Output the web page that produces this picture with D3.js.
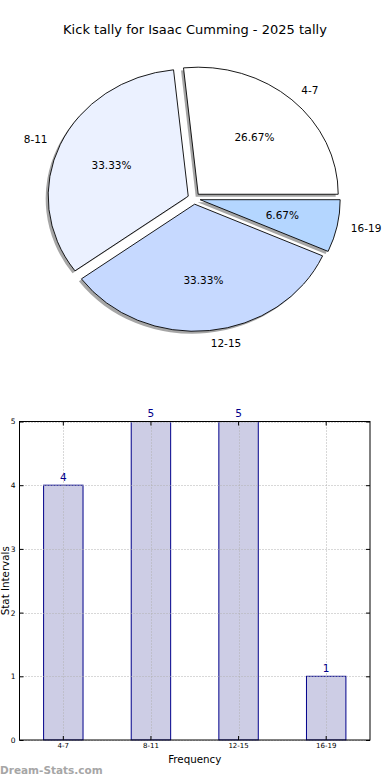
<!DOCTYPE html>
<meta charset="utf-8">
<script src="https://d3js.org/d3.v7.min.js"></script>
<style>
  body { margin: 0; background: #fff; }
  text { font-family: "DejaVu Sans", sans-serif; }
</style>
<div id="chart"></div>
<script>

// data
const categories = ["4-7", "8-11", "12-15", "16-19"];
const counts = [4, 5, 5, 1];
const yTicks = [0, 1, 2, 3, 4, 5];
const title = "Kick tally for Isaac Cumming - 2025 tally";

const svg = d3.select("#chart").append("svg")
  .attr("width", 390)
  .attr("height", 780);

svg.append("rect").attr("width", 390).attr("height", 780).attr("fill", "#fff");

// ---- pie ----
svg.append("text")
  .attr("x", 195).attr("y", 34)
  .attr("text-anchor", "middle")
  .attr("font-size", 13)
  .text(title);

const cx = 194, cy = 198.5, rx = 140, ry = 127, explode = 0.045;
const color = d3.scaleOrdinal()
  .domain(categories)
  .range(["#ffffff", "#ebf1ff", "#c6d9ff", "#b4d6ff"]);

// counter-clockwise from 3 o'clock, like matplotlib
const pie = d3.pie().sort(null)
  .startAngle(Math.PI / 2)
  .endAngle(Math.PI / 2 - 2 * Math.PI);
const arcs = pie(counts);
const arc = d3.arc().innerRadius(0).outerRadius(1);
const totalCount = d3.sum(counts);

function mid(d) { return (d.startAngle + d.endAngle) / 2; }
function px(d, k) { return cx + rx * explode * Math.sin(mid(d)) + k * rx * Math.sin(mid(d)); }
function py(d, k) { return cy - ry * explode * Math.cos(mid(d)) - k * ry * Math.cos(mid(d)); }

// shadows under everything
svg.append("g").selectAll("path")
  .data(arcs)
  .join("path")
    .attr("transform", d => `translate(${px(d, 0) - 2.5},${py(d, 0) + 2.5}) scale(${rx},${ry})`)
    .attr("d", arc)
    .attr("fill", "#4d4d4d")
    .attr("fill-opacity", 0.5);

svg.append("g").selectAll("path")
  .data(arcs)
  .join("path")
    .attr("transform", d => `translate(${px(d, 0)},${py(d, 0)}) scale(${rx},${ry})`)
    .attr("d", arc)
    .attr("fill", (d, i) => color(categories[i]))
    .attr("stroke", "#000")
    .attr("stroke-width", 0.9)
    .attr("vector-effect", "non-scaling-stroke");

svg.append("g").selectAll("text")
  .data(arcs)
  .join("text")
    .attr("x", d => px(d, 1.1))
    .attr("y", d => py(d, 1.1))
    .attr("dy", "0.35em")
    .attr("text-anchor", d => Math.sin(mid(d)) > 0 ? "start" : "end")
    .attr("font-size", 10.5)
    .text((d, i) => categories[i]);

svg.append("g").selectAll("text")
  .data(arcs)
  .join("text")
    .attr("x", d => px(d, 0.6))
    .attr("y", d => py(d, 0.6))
    .attr("dy", "0.35em")
    .attr("text-anchor", "middle")
    .attr("font-size", 10.5)
    .text(d => (100 * d.value / totalCount).toFixed(2) + "%");

// ---- bars ----
const plotL = 19.5, plotR = 370, plotT = 421.5, plotB = 740;

const x = d3.scaleBand()
  .domain(categories)
  .range([plotL, plotR])
  .paddingInner(0.55)
  .paddingOuter(0.275);

const y = d3.scaleLinear()
  .domain([0, d3.max(yTicks)])
  .range([plotB, plotT]);

svg.append("g").selectAll("rect")
  .data(counts)
  .join("rect")
    .attr("x", (d, i) => x(categories[i]))
    .attr("y", d => y(d))
    .attr("width", x.bandwidth())
    .attr("height", d => plotB - y(d))
    .attr("fill", "#cdcde5")
    .attr("stroke", "#00008b")
    .attr("stroke-width", 1);

// grid drawn over bars
const grid = svg.append("g")
  .attr("stroke", "#b0b0b0")
  .attr("stroke-width", 1)
  .attr("stroke-dasharray", "1,2");
grid.selectAll(".gy")
  .data(yTicks)
  .join("line")
    .attr("class", "gy")
    .attr("x1", plotL).attr("x2", plotR)
    .attr("y1", d => Math.round(y(d)) + 0.5)
    .attr("y2", d => Math.round(y(d)) + 0.5);
grid.selectAll(".gx")
  .data(categories)
  .join("line")
    .attr("class", "gx")
    .attr("x1", d => Math.round(x(d) + x.bandwidth() / 2) + 0.5)
    .attr("x2", d => Math.round(x(d) + x.bandwidth() / 2) + 0.5)
    .attr("y1", plotT).attr("y2", plotB);

// value labels
svg.append("g").selectAll("text")
  .data(counts)
  .join("text")
    .attr("x", (d, i) => x(categories[i]) + x.bandwidth() / 2)
    .attr("y", d => y(d) - 4.5)
    .attr("text-anchor", "middle")
    .attr("font-size", 10.5)
    .attr("fill", "#00008b")
    .text(d => d);

// axes with inward ticks
function styleAxis(g, fs) {
  g.select(".domain").remove();
  g.selectAll("line").attr("stroke", "#000");
  g.selectAll("text").attr("font-size", fs).attr("fill", "#000")
    .attr("font-family", "DejaVu Sans, sans-serif");
}

svg.append("g")
  .attr("transform", `translate(${plotL},0)`)
  .call(d3.axisLeft(y).tickValues(yTicks).tickSize(-4).tickPadding(4).tickFormat(d3.format("d")))
  .call(g => styleAxis(g, 7.5));

svg.append("g")
  .attr("transform", `translate(${plotR},0)`)
  .call(d3.axisRight(y).tickValues(yTicks).tickSize(-4).tickFormat(""))
  .call(g => styleAxis(g, 7.5));

svg.append("g")
  .attr("transform", `translate(0,${plotB})`)
  .call(d3.axisBottom(x).tickSize(-4).tickPadding(3))
  .call(g => styleAxis(g, 7));

svg.append("g")
  .attr("transform", `translate(0,${plotT})`)
  .call(d3.axisTop(x).tickSize(-4).tickFormat(""))
  .call(g => styleAxis(g, 7));

svg.append("rect")
  .attr("x", plotL).attr("y", plotT)
  .attr("width", plotR - plotL).attr("height", plotB - plotT)
  .attr("fill", "none")
  .attr("stroke", "#000")
  .attr("stroke-width", 1);

svg.append("text")
  .attr("x", (plotL + plotR) / 2).attr("y", 763)
  .attr("text-anchor", "middle")
  .attr("font-size", 10.3)
  .text("Frequency");

svg.append("text")
  .attr("transform", `translate(9,${(plotT + plotB) / 2}) rotate(-90)`)
  .attr("text-anchor", "middle")
  .attr("font-size", 10.3)
  .text("Stat Intervals");

svg.append("text")
  .attr("x", 0).attr("y", 774)
  .attr("font-size", 10.5)
  .attr("font-weight", "bold")
  .attr("fill", "#a6a6a6")
  .text("Dream-Stats.com");

</script>
